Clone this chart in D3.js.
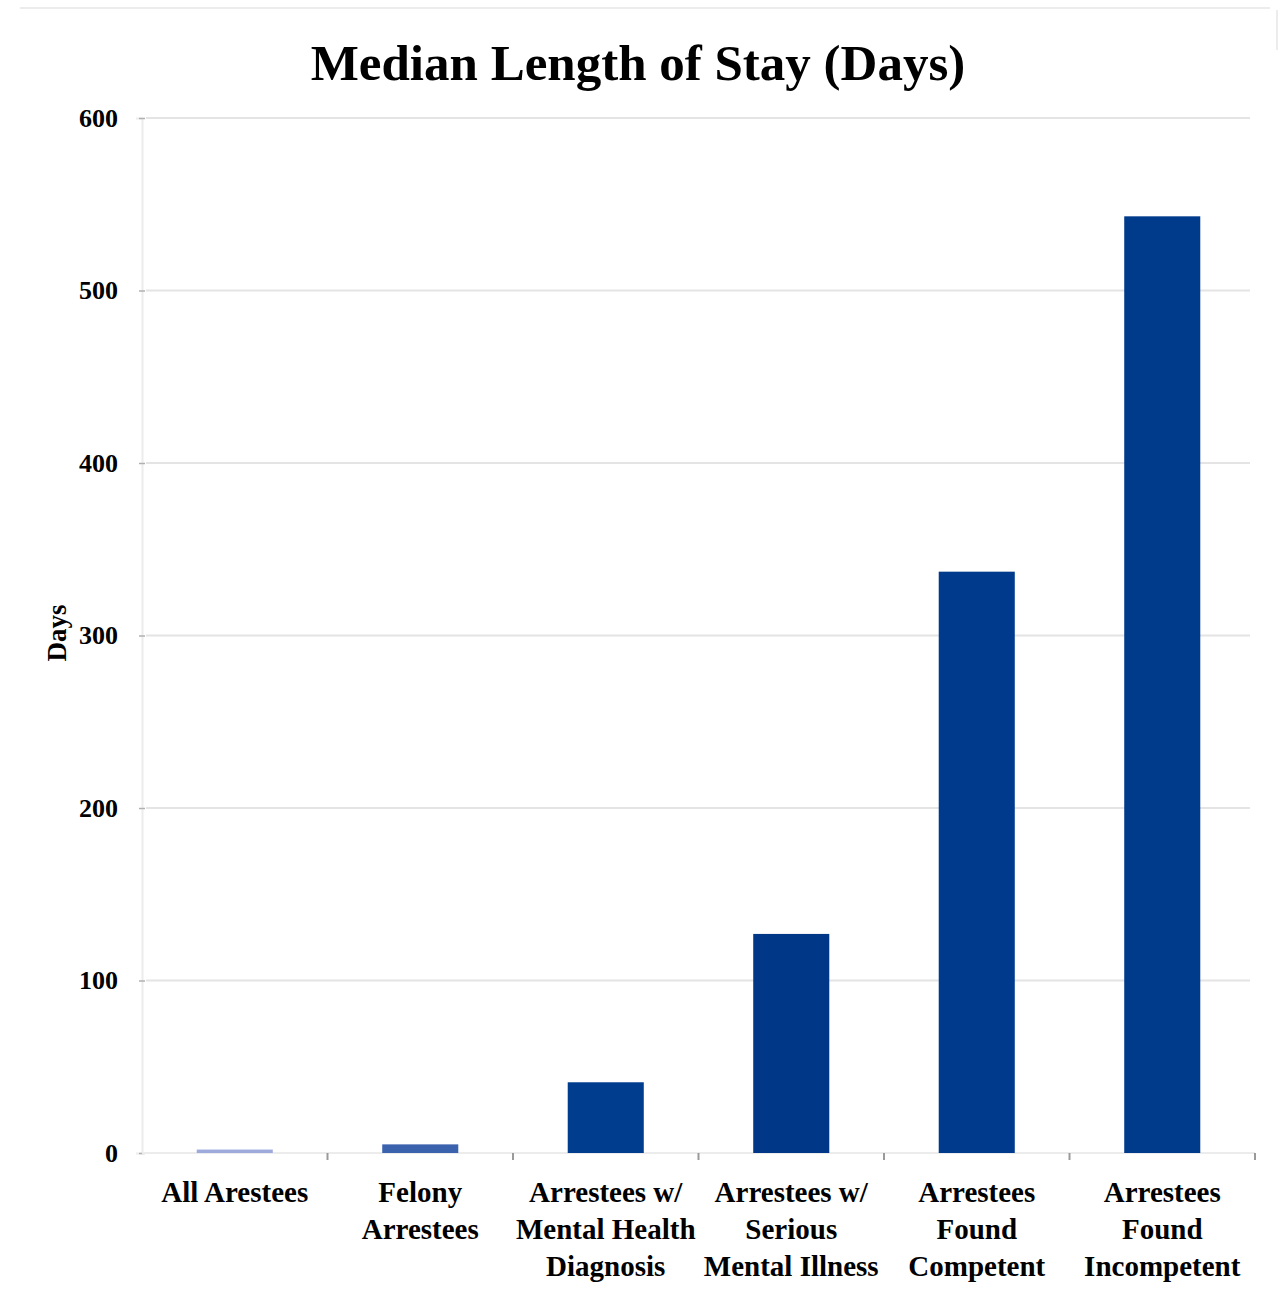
<!DOCTYPE html>
<html>
<head>
<meta charset="utf-8">
<script src="https://cdn.jsdelivr.net/npm/d3@7"></script>
<style>
  html, body { margin: 0; padding: 0; background: #fff; }
  svg { display: block; }
  text { font-family: "Liberation Serif", "DejaVu Serif", serif; font-weight: bold; fill: #000; }
</style>
</head>
<body>
<svg id="chart" width="1281" height="1293"></svg>
<script>
// Median length of stay per group, in days
const categories = [
  ["All Arestees"],
  ["Felony", "Arrestees"],
  ["Arrestees w/", "Mental Health", "Diagnosis"],
  ["Arrestees w/", "Serious", "Mental Illness"],
  ["Arrestees", "Found", "Competent"],
  ["Arrestees", "Found", "Incompetent"]
];
const values = [2, 5, 41, 127, 337, 543];
const barColors = ["#9eaadc", "#3a62ad", "#003d8e", "#003787", "#003a8c", "#003a8a"];
const yTicks = [0, 100, 200, 300, 400, 500, 600];

const svg = d3.select("#chart");
const W = 1281, H = 1293;
const margin = { left: 142, right: 26, top: 118, bottom: 140 };
const plotBottom = 1153;

// faint page frame
svg.append("line").attr("x1", 20).attr("x2", 1270).attr("y1", 8).attr("y2", 8)
  .attr("stroke", "#e6e6e6").attr("stroke-width", 1.5);
svg.append("line").attr("x1", 1277).attr("x2", 1277).attr("y1", 10).attr("y2", 50)
  .attr("stroke", "#e6e6e6").attr("stroke-width", 1.5);

const x = d3.scaleBand()
  .domain(d3.range(categories.length))
  .range([margin.left, W - margin.right])
  .paddingInner(0.59)
  .paddingOuter(0.295);

const xBand = d3.scaleBand()
  .domain(d3.range(categories.length))
  .range([margin.left, W - margin.right]);

const y = d3.scaleLinear().domain([0, 600]).range([plotBottom, margin.top]);

// horizontal gridlines
svg.append("g")
  .selectAll("line")
  .data(yTicks.filter(d => d > 0))
  .join("line")
  .attr("x1", margin.left + 4)
  .attr("x2", W - margin.right - 5)
  .attr("y1", d => y(d))
  .attr("y2", d => y(d))
  .attr("stroke", "#e4e4e4")
  .attr("stroke-width", 2);

// y axis
const yAxis = svg.append("g")
  .attr("transform", `translate(${margin.left},0)`)
  .call(d3.axisLeft(y).tickValues(yTicks).tickSize(6).tickPadding(18));
yAxis.select(".domain").attr("stroke", "#ececec").attr("stroke-width", 2);
yAxis.selectAll(".tick line").attr("stroke", "#b0b0b0").attr("stroke-width", 1.5).attr("transform", "translate(3,0)");
yAxis.selectAll(".tick text")
  .attr("font-size", 26)
  .attr("font-family", "Liberation Serif, serif")
  .attr("font-weight", "bold")
  .attr("fill", "#000");

// x axis baseline with ticks at band boundaries
const xAxisG = svg.append("g");
xAxisG.append("line")
  .attr("x1", margin.left).attr("x2", W - margin.right)
  .attr("y1", plotBottom).attr("y2", plotBottom)
  .attr("stroke", "#ececec").attr("stroke-width", 2);
xAxisG.selectAll("line.tk")
  .data(d3.range(1, categories.length + 1))
  .join("line")
  .attr("class", "tk")
  .attr("x1", i => xBand(i - 1) + xBand.bandwidth())
  .attr("x2", i => xBand(i - 1) + xBand.bandwidth())
  .attr("y1", plotBottom)
  .attr("y2", plotBottom + 7)
  .attr("stroke", "#9a9a9a").attr("stroke-width", 2);

// bars
svg.append("g")
  .selectAll("rect")
  .data(values)
  .join("rect")
  .attr("x", (d, i) => x(i))
  .attr("width", x.bandwidth())
  .attr("y", d => y(d))
  .attr("height", d => plotBottom - y(d))
  .attr("fill", (d, i) => barColors[i]);

// category labels
const labels = svg.append("g")
  .selectAll("text")
  .data(categories)
  .join("text")
  .attr("text-anchor", "middle")
  .attr("font-size", 29)
  .attr("x", (d, i) => xBand(i) + xBand.bandwidth() / 2)
  .attr("y", 1202);
labels.selectAll("tspan")
  .data(d => d)
  .join("tspan")
  .attr("x", function () { return d3.select(this.parentNode).attr("x"); })
  .attr("dy", (d, j) => j === 0 ? 0 : 37)
  .text(d => d);

// y axis title
svg.append("text")
  .attr("transform", "translate(66,633) rotate(-90)")
  .attr("text-anchor", "middle")
  .attr("font-size", 27)
  .text("Days");

// chart title
svg.append("text")
  .attr("x", 638)
  .attr("y", 80)
  .attr("text-anchor", "middle")
  .attr("font-size", 51)
  .text("Median Length of Stay (Days)");
</script>
</body>
</html>
